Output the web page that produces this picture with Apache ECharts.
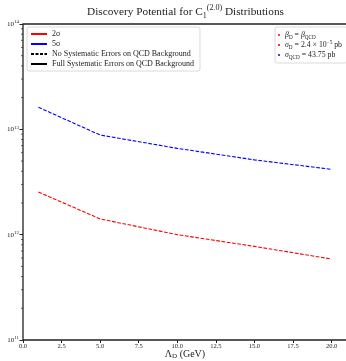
<!DOCTYPE html>
<html>
<head>
<meta charset="utf-8">
<script src="https://cdn.jsdelivr.net/npm/echarts@6/dist/echarts.min.js"></script>
<style>
    html, body { margin: 0; padding: 0; background: #fff; }
    #chart { width: 346px; height: 361px; }
</style>
</head>
<body>
<div id="chart"></div>
<script>
    // values
    const lambdaD = [1, 5, 10, 15, 20];
    const sig2 = [2.54e12, 1.41e12, 1.0e12, 7.74e11, 5.87e11];
    const sig5 = [1.62e13, 8.83e12, 6.6e12, 5.13e12, 4.17e12];
    const xTicks = [0, 2.5, 5, 7.5, 10, 12.5, 15, 17.5, 20];
    const yMinor = [2e11, 3e11, 4e11, 5e11, 6e11, 7e11, 8e11, 9e11,
        2e12, 3e12, 4e12, 5e12, 6e12, 7e12, 8e12, 9e12,
        2e13, 3e13, 4e13, 5e13, 6e13, 7e13, 8e13, 9e13];
    const legendNames = ['2σ', '5σ', 'No Systematic Errors on QCD Background', 'Full Systematic Errors on QCD Background'];
    const infoNames = ['betaD', 'sigmaD', 'sigmaQCD'];
    const infoText = {
        betaD: '{i|β}{s|D} = {i|β}{s|QCD}',
        sigmaD: '{i|σ}{s|D} = 2.4 × 10{p|−5} pb',
        sigmaQCD: '{i|σ}{s|QCD} = 43.75 pb'
    };

    const serif = '"Liberation Serif", "DejaVu Serif", serif';

    let chart = echarts.init(document.getElementById('chart'));

    const pair = (xs, ys) => xs.map((x, i) => [x, ys[i]]);

    const richSmall = {
        i: {fontFamily: serif, fontSize: 7.8, fontStyle: 'italic', lineHeight: 10},
        s: {fontFamily: serif, fontSize: 5.2, lineHeight: 5, verticalAlign: 'bottom'},
        p: {fontFamily: serif, fontSize: 5.2, lineHeight: 5, verticalAlign: 'top'}
    };

    let option = {
        animation: false,
        backgroundColor: '#fff',
        title: {
            text: '{a|Discovery Potential for C}{b|1}{c|(2.0)}{a| Distributions}',
            left: 87,
            top: 4,
            padding: 0,
            textStyle: {
                fontWeight: 'normal',
                rich: {
                    a: {fontFamily: serif, fontSize: 11.3, fontWeight: 'normal', color: '#222', lineHeight: 16},
                    b: {fontFamily: serif, fontSize: 8, fontWeight: 'normal', color: '#222', lineHeight: 8, verticalAlign: 'bottom'},
                    c: {fontFamily: serif, fontSize: 8, fontWeight: 'normal', color: '#222', lineHeight: 8, verticalAlign: 'top'}
                }
            }
        },
        grid: {
            left: 23, right: -1, top: 24, bottom: 21,
            show: true, borderColor: '#222', borderWidth: 1.3,
            containLabel: false,
            outerBoundsMode: 'none'
        },
        legend: [{
            data: legendNames,
            orient: 'vertical',
            left: 27, top: 27,
            padding: [3, 6, 3, 3],
            itemWidth: 16, itemHeight: 6, itemGap: 2,
            borderColor: '#d0d0d0', borderWidth: 0.8, borderRadius: 2,
            backgroundColor: '#fff',
            selectedMode: false,
            itemStyle: {opacity: 0},
            textStyle: {fontFamily: serif, fontSize: 8, lineHeight: 8, color: '#222'}
        }, {
            data: infoNames,
            orient: 'vertical',
            left: 275, top: 27,
            padding: [3, 5, 3, 3],
            itemWidth: 2, itemHeight: 2, itemGap: 0,
            icon: 'circle',
            borderColor: '#d0d0d0', borderWidth: 0.8, borderRadius: 2,
            backgroundColor: '#fff',
            selectedMode: false,
            formatter: name => infoText[name],
            textStyle: {fontFamily: serif, fontSize: 7.8, lineHeight: 10, color: '#222', rich: richSmall}
        }],
        xAxis: {
            type: 'value',
            min: 0, max: 21, interval: 2.5,
            name: '{a|Λ}{s|D}{a| (GeV)}',
            nameLocation: 'middle',
            nameGap: 8,
            nameMoveOverlap: false,
            nameTextStyle: {
                rich: {
                    a: {fontFamily: serif, fontSize: 10, color: '#222', lineHeight: 12},
                    s: {fontFamily: serif, fontSize: 7, color: '#222', lineHeight: 6, verticalAlign: 'bottom'}
                }
            },
            axisLine: {show: false},
            splitLine: {show: false},
            axisTick: {show: true, length: 3, inside: false, lineStyle: {color: '#222'}, customValues: xTicks},
            axisLabel: {
                fontFamily: serif, fontSize: 6.5, color: '#222', margin: 3,
                customValues: xTicks,
                formatter: v => (Math.abs(v / 2.5 - Math.round(v / 2.5)) < 1e-6 ? v.toFixed(1) : '')
            }
        },
        yAxis: {
            type: 'log',
            logBase: 10,
            min: 1e11, max: 1e14,
            axisLine: {show: false},
            splitLine: {show: false},
            axisTick: {show: true, length: 3.5, inside: false, lineStyle: {color: '#222'}},
            minorTick: {show: false},
            axisLabel: {
                margin: 4,
                color: '#222',
                formatter: v => '{b|10}{p|' + Math.round(Math.log10(v)) + '}',
                rich: {
                    b: {fontFamily: serif, fontSize: 7, color: '#222', lineHeight: 9},
                    p: {fontFamily: serif, fontSize: 5, color: '#222', lineHeight: 5, verticalAlign: 'top'}
                }
            }
        },
        series: [
            {
                name: 'red-curve', type: 'line', symbol: 'none',
                data: pair(lambdaD, sig2),
                lineStyle: {color: '#ff0000', width: 1.1, type: [3.7, 1.6]}
            },
            {
                name: 'blue-curve', type: 'line', symbol: 'none',
                data: pair(lambdaD, sig5),
                lineStyle: {color: '#0000ff', width: 1.1, type: [3.7, 1.6]}
            },
            // minor log ticks on the left spine
            {
                name: 'minor-ticks', type: 'custom', silent: true, clip: false,
                data: yMinor.map(v => [0, v]),
                renderItem: (params, api) => {
                    const p = api.coord([0, api.value(1)]);
                    return {
                        type: 'line',
                        shape: {x1: p[0] - 2, y1: p[1], x2: p[0], y2: p[1]},
                        style: {stroke: '#222', lineWidth: 0.7}
                    };
                }
            },
            // legend entries only
            {name: '2σ', type: 'line', symbol: 'none', data: [], color: '#ff0000', lineStyle: {color: '#ff0000', width: 1.2}},
            {name: '5σ', type: 'line', symbol: 'none', data: [], color: '#0000ff', lineStyle: {color: '#0000ff', width: 1.2}},
            {name: legendNames[2], type: 'line', symbol: 'none', data: [], color: '#000', lineStyle: {color: '#000', width: 1.2, type: [3, 1.5]}},
            {name: legendNames[3], type: 'line', symbol: 'none', data: [], color: '#000', lineStyle: {color: '#000', width: 1.2}},
            {name: 'betaD', type: 'line', symbol: 'none', data: [], color: '#ff0000'},
            {name: 'sigmaD', type: 'line', symbol: 'none', data: [], color: '#cc0000'},
            {name: 'sigmaQCD', type: 'line', symbol: 'none', data: [], color: '#0000ff'}
        ]
    };

    chart.setOption(option, true);
</script>
</body>
</html>
